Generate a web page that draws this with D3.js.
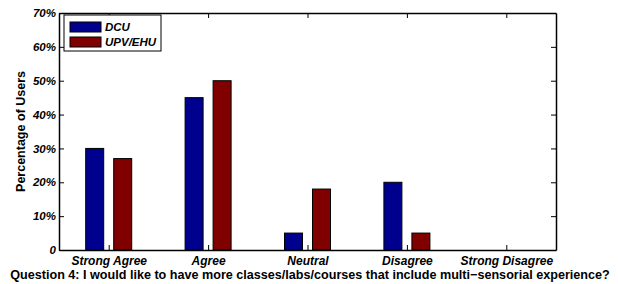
<!DOCTYPE html>
<html>
<head>
<meta charset="utf-8">
<script src="https://cdn.jsdelivr.net/npm/d3@7"></script>
<style>
  body { margin: 0; background: #fff; }
  svg { font-family: "Liberation Sans", Arial, sans-serif; }
</style>
</head>
<body>
<svg id="chart"></svg>
<script>
const categories = ['Strong Agree', 'Agree', 'Neutral', 'Disagree', 'Strong Disagree']
const seriesNames = ['DCU', 'UPV/EHU']
const dcuValues = [30, 45, 5, 20, 0]
const upvValues = [27, 50, 18, 5, 0]
const yTicks = [0, 10, 20, 30, 40, 50, 60, 70]
const colors = ['#00008f', '#800000']

const w = 618
const h = 284
const margin = { top: 13, right: 62, bottom: 34, left: 59 }

const svg = d3.select('#chart')
  .attr('width', w)
  .attr('height', h)

// scales
const xScale = d3.scaleLinear()
  .domain([0.5, categories.length + 0.5])
  .range([margin.left, w - margin.right])

const yScale = d3.scaleLinear()
  .domain([0, 70])
  .range([h - margin.bottom, margin.top])

const offset = 14
const barW = 18

// bars
const series = [dcuValues, upvValues]
series.forEach((vals, si) => {
  svg.append('g')
    .selectAll('rect')
    .data(vals)
    .join('rect')
    .attr('x', (d, i) => xScale(i + 1) + (si === 0 ? -offset : offset) - barW / 2)
    .attr('y', d => yScale(d))
    .attr('width', barW)
    .attr('height', d => yScale(0) - yScale(d))
    .attr('fill', colors[si])
    .attr('stroke', '#000')
    .attr('stroke-width', 1)
})

// axes, ticks inside
const tickLen = 5
const xAxisB = d3.axisBottom(xScale)
  .tickValues(d3.range(1, categories.length + 1))
  .tickFormat(i => categories[i - 1])
  .tickSizeInner(-tickLen).tickSizeOuter(0).tickPadding(6)
const xAxisT = d3.axisTop(xScale)
  .tickValues(d3.range(1, categories.length + 1))
  .tickFormat('')
  .tickSizeInner(-tickLen).tickSizeOuter(0)
const yAxisL = d3.axisLeft(yScale)
  .tickValues(yTicks)
  .tickFormat(d => d === 0 ? '0' : d + '%')
  .tickSizeInner(-tickLen).tickSizeOuter(0).tickPadding(3)
const yAxisR = d3.axisRight(yScale)
  .tickValues(yTicks)
  .tickFormat('')
  .tickSizeInner(-tickLen).tickSizeOuter(0)

const gx = svg.append('g')
  .attr('transform', `translate(0, ${h - margin.bottom})`)
  .call(xAxisB)
svg.append('g')
  .attr('transform', `translate(0, ${margin.top})`)
  .call(xAxisT)
const gy = svg.append('g')
  .attr('transform', `translate(${margin.left}, 0)`)
  .call(yAxisL)
svg.append('g')
  .attr('transform', `translate(${w - margin.right}, 0)`)
  .call(yAxisR)

svg.selectAll('.domain').attr('stroke', '#000').attr('stroke-width', 1.5)
svg.selectAll('.tick line').attr('stroke', '#000')
svg.selectAll('.tick text')
  .attr('fill', '#000')
  .style('font-weight', 'bold')
  .style('font-style', 'italic')
gx.selectAll('.tick text').style('font-size', '12px')
gy.selectAll('.tick text').style('font-size', '11.5px')

// axis labels
svg.append('text')
  .attr('transform', `translate(25, ${(margin.top + h - margin.bottom) / 2}) rotate(-90)`)
  .attr('text-anchor', 'middle')
  .style('font-size', '12.5px')
  .style('font-weight', 'bold')
  .text('Percentage of Users')

svg.append('text')
  .attr('x', 310)
  .attr('y', 279)
  .attr('text-anchor', 'middle')
  .style('font-size', '12.6px')
  .style('font-weight', 'bold')
  .text('Question 4: I would like to have more classes/labs/courses that include multi\u2212sensorial experience?')

// legend
const legend = svg.append('g').attr('transform', 'translate(64, 15)')
legend.append('rect')
  .attr('width', 97).attr('height', 36)
  .attr('fill', '#fff').attr('stroke', '#000').attr('stroke-width', 1)
seriesNames.forEach((name, i) => {
  legend.append('rect')
    .attr('x', 6).attr('y', 7 + i * 15)
    .attr('width', 31).attr('height', 10)
    .attr('fill', colors[i]).attr('stroke', '#000')
  legend.append('text')
    .attr('x', 41).attr('y', 16 + i * 15)
    .style('font-size', '11.5px')
    .style('font-weight', 'bold')
    .style('font-style', 'italic')
    .text(name)
})
</script>
</body>
</html>
